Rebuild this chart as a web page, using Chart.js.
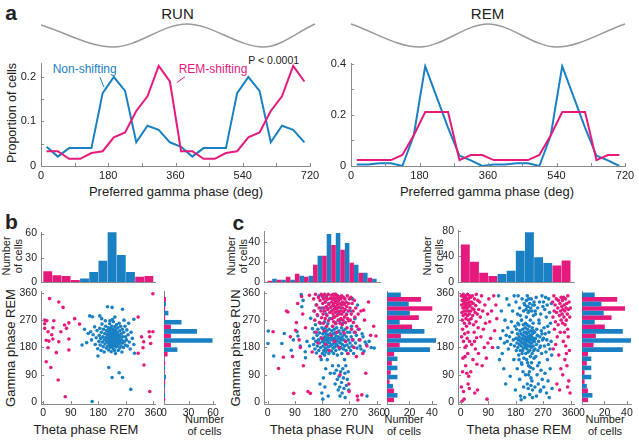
<!DOCTYPE html>
<html>
<head>
<meta charset="utf-8">
<script src="https://cdn.jsdelivr.net/npm/chart.js@4.4.1/dist/chart.umd.min.js"></script>
<style>
html,body{margin:0;padding:0;background:#fff;}
#fig{position:relative;width:639px;height:441px;overflow:hidden;font-family:"Liberation Sans",Arial,sans-serif;color:#222;}
#fig canvas{position:absolute;}
.t{position:absolute;white-space:nowrap;line-height:1;transform:translate(-50%,-50%);}
.rot{transform:translate(-50%,-50%) rotate(-90deg);}
.two{text-align:center;line-height:11.5px;}
.lbl{font-weight:bold;font-size:21px;}
.blue{color:#1a80c4;}
.pink{color:#e6197d;}
</style>
</head>
<body>
<div id="fig">
  <div class="t lbl" style="left:11px;top:11.5px">a</div>
  <div class="t" style="left:177.5px;top:12.5px;font-size:15px">RUN</div>
  <div class="t" style="left:487.5px;top:12.5px;font-size:15px">REM</div>
  <div class="t" style="left:273.7px;top:60px;font-size:10.5px">P &lt; 0.0001</div>
  <div class="t blue" style="left:84.7px;top:68.7px;font-size:12px">Non-shifting</div>
  <div class="t pink" style="left:213px;top:69px;font-size:12px">REM-shifting</div>
  <div class="t rot" style="left:11.7px;top:113px;font-size:12.5px">Proportion of cells</div>
  <div class="t" style="left:176px;top:191px;font-size:13px">Preferred gamma phase (deg)</div>
  <div class="t" style="left:487px;top:191px;font-size:13px">Preferred gamma phase (deg)</div>

  <div class="t lbl" style="left:11.5px;top:221px">b</div>
  <div class="t lbl" style="left:238.3px;top:222.4px">c</div>

  <div class="t rot two" style="left:12px;top:256px;font-size:11px">Number<br>of cells</div>
  <div class="t rot two" style="left:236.7px;top:256px;font-size:11px">Number<br>of cells</div>
  <div class="t rot two" style="left:432.5px;top:256px;font-size:11px">Number<br>of cells</div>

  <div class="t rot" style="left:10px;top:348px;font-size:13px">Gamma phase REM</div>
  <div class="t rot" style="left:235px;top:348px;font-size:13px">Gamma phase RUN</div>

  <div class="t" style="left:86px;top:429px;font-size:13px">Theta phase REM</div>
  <div class="t" style="left:321.7px;top:429px;font-size:13px">Theta phase RUN</div>
  <div class="t" style="left:519px;top:429px;font-size:13px">Theta phase REM</div>

  <div class="t two" style="left:204.5px;top:425px;font-size:11px">Number<br>of cells</div>
  <div class="t two" style="left:404px;top:425px;font-size:11px">Number<br>of cells</div>
  <div class="t two" style="left:605px;top:425px;font-size:11px">Number<br>of cells</div>

  <svg style="position:absolute;left:0;top:0" width="639" height="441">
    <line x1="100" y1="77.3" x2="104" y2="87.3" stroke="#1a80c4" stroke-width="1"/>
    <line x1="185" y1="76.7" x2="176.7" y2="82.7" stroke="#e6197d" stroke-width="1"/>
  </svg>
</div>

<script>
const BLUE = "#1a80c4";
const PINK = "#e6197d";
const AXIS = "#8a8a8a";
const TXT = "#222";
const WAVE = "#9a9a9a";
const FONT = "'Liberation Sans', Arial, sans-serif";

// ---- panel a: preferred gamma phase histograms (30 deg bins, shown twice)
const phaseBins = [15,45,75,105,135,165,195,225,255,285,315,345,375,405,435,465,495,525,555,585,615,645,675,705];
const runNonShifting = [0.043,0.021,0.040,0.040,0.040,0.163,0.199,0.168,0.053,0.090,0.081,0.053,
                        0.043,0.021,0.040,0.040,0.040,0.163,0.199,0.168,0.053,0.090,0.081,0.053];
const runRemShifting = [0.033,0.033,0.016,0.016,0.029,0.033,0.064,0.075,0.123,0.156,0.224,0.189,
                        0.033,0.033,0.016,0.016,0.029,0.033,0.064,0.075,0.123,0.156,0.224,0.189];
const remNonShifting = [0.006,0.006,0.011,0.011,0,0.12,0.39,0.27,0.15,0.04,0.022,0,
                        0.006,0.006,0.011,0.011,0,0.12,0.39,0.27,0.15,0.04,0.022,0];
const remRemShifting = [0.023,0.023,0.023,0.023,0.043,0.12,0.211,0.211,0.211,0.023,0.043,0.043,
                        0.023,0.023,0.023,0.023,0.043,0.12,0.211,0.211,0.211,0.023,0.043,0.043];
const phaseTicks = [0,180,360,540,720];
const phaseMinor = [90,270,450,630];
const runPropTicks = [0,0.1,0.2];
const runPropMinor = [0.05,0.15];
const remPropTicks = [0,0.2,0.4];
const remPropMinor = [0.1,0.3];

// schematic theta waves above panel a (extrema)
const runWavePhase = [0,194,390,595,733];
const runWaveLevel = [0.91,-1,1,-1,1];
const remWavePhase = [0,180,360,540,720];
const remWaveLevel = [1,-1,1,-1,1];

// ---- panels b, c: histograms, 30 deg bins
const binCenters = [15,45,75,105,135,165,195,225,255,285,315,345];
const topGroup = ["rem","rem","rem","rem","non","non","non","non","non","non","rem","rem"];
const bTopCounts = [13,8,7,2,4,12,26,62,33,12,6,7];
const bRightNon = [1,1,2,1,0,16,59,40,21,5,2,0];
const bRightRem = [1,0,1,0,1,4,8,8,8,1,1,2];
const cRunTopRem = [1,2,5,8,5,17,26,37,32,19,9,4];
const cRunTopNon = [3,2,2,6,6,26,48,49,39,17,9,3];
const cRunRightNon = [9,5,9,9,9,38,44,33,11,20,19,12];
const cRunRightRem = [6,6,2,3,4,6,11,12,22,28,40,30];
const cRemTopCounts = [58,31,14,9,12,17,48,77,38,29,25,33];
const cRemRightNon = [9,4,8,8,8,36,44,36,11,19,17,11];
const cRemRightRem = [5,5,2,2,4,5,10,12,20,26,38,31];
const angleTicks = [0,90,180,270,360];
const bCountTicks = [0,30,60];
const cRunCountTicks = [0,20,40];
const cRemCountTicks = [0,40,80];
const sideCountTicks = [0,20,40];

// ---- scatter points [theta, gamma]
const bRemPts = [[21,341],[51,330],[65,312],[5,270],[12,268],[35,268],[70,254],[84,261],[103,275],[119,257],
  [5,243],[16,232],[32,245],[58,232],[76,243],[10,204],[19,201],[32,208],[16,179],[51,199],[84,208],[43,163],
  [84,172],[10,133],[25,114],[49,73],[72,18],[5,258],[28,222],[358,357],[310,280],[346,232],[358,232],[321,215],
  [348,215],[328,199],[351,193],[326,179],[310,161],[329,122],[348,35]];
const bNonPts = [[160,2],[286,42],[214,114],[225,81],[248,97],[259,81],[210,314],[225,312],[259,306],[152,284],
  [161,281],[185,284],[127,188],[296,273],[298,161],[179,152],
  [135,240],[142,196],[147,226],
  [155,232],[158,205],[163,222],[168,248],[170,190],[173,212],[176,236],[178,176],
  [182,200],[183,220],[185,243],[186,188],[188,210],[189,170],[190,230],[192,257],[193,198],[195,215],[196,183],
  [197,240],[199,165],[200,205],[201,226],[202,192],[204,250],[205,213],[206,178],[207,236],[208,200],[209,222],
  [203,268],[191,275],
  [211,185],[211,210],[212,228],[213,196],[213,245],[214,172],[215,204],[215,218],[216,236],[217,190],[217,258],
  [218,212],[218,200],[219,225],[219,180],[220,242],[220,207],[221,195],[221,216],[222,232],[222,166],[223,202],
  [223,188],[224,220],[224,250],[225,210],[225,197],[226,183],[226,228],[227,205],[227,240],[228,192],[228,215],
  [229,175],[229,265],[230,200],[230,222],[231,187],[231,210],[232,235],[232,196],[233,170],[233,218],[234,205],
  [234,248],[235,190],[235,227],[236,212],[236,160],[237,200],[237,238],[238,182],[238,220],[239,207],[239,255],
  [234,280],[226,272],[218,268],[240,195],
  [241,215],[242,230],[242,185],[243,200],[244,245],[245,210],[245,170],[246,222],[247,192],[248,260],[249,205],
  [250,178],[250,235],[251,215],[252,196],[253,250],[254,185],[255,225],[256,205],[257,165],[258,240],[259,195],
  [260,215],[262,180],[263,230],[264,270],[265,200],[267,250],[268,188],[269,215],
  [272,205],[273,238],[275,185],[277,222],[279,260],[281,198],[284,175],[287,230],[291,210],[296,190]];

const cRunRemPts = [[18,232],[36,111],[52,148],[62,300],[67,297],[75,215],[82,150],[86,29],
  [92,237],[95,262],[99,325],[104,205],[108,180],[112,348],[116,290],[118,120],
  [125,245],[133,35],[138,352],[141,29],[147,165],
  [152,340],[154,300],[156,270],[158,355],[160,230],[162,320],[164,288],[166,195],[168,345],[170,310],[171,262],
  [173,335],[174,150],[176,300],[177,355],[178,278],[179,210],
  [181,350],[182,325],[183,290],[184,260],[185,340],[186,310],[187,235],[188,355],[189,300],[190,275],[191,330],
  [192,190],[193,345],[194,315],[195,250],[196,285],[197,338],[199,305],[200,355],[201,268],[202,322],[204,170],
  [205,295],[206,342],[208,312],[209,220],
  [211,352],[211,330],[212,300],[213,275],[214,340],[215,318],[215,250],[216,290],[217,355],[218,325],[218,265],
  [219,305],[220,345],[221,280],[221,200],[222,335],[223,315],[224,296],[225,355],[225,258],[226,328],[227,308],
  [228,342],[229,285],[229,230],[230,320],[231,350],[232,300],[233,270],[234,335],[235,312],[236,180],[237,345],
  [237,290],[238,325],[239,260],[239,90],
  [241,340],[241,300],[242,275],[243,320],[244,350],[245,290],[246,255],[247,330],[248,310],[249,270],[250,345],
  [251,298],[252,228],[253,322],[254,280],[255,340],[256,305],[257,262],[258,200],[259,330],[260,288],[261,315],
  [262,245],[263,350],[264,275],[265,160],[266,300],[267,325],[268,60],[268,268],[269,35],[270,340],
  [272,310],[273,270],[275,345],[276,290],[277,240],[279,325],[280,205],[282,300],[283,262],[285,180],[286,335],
  [288,280],[289,230],[291,310],[293,150],[294,250],[296,20],[298,7],[299,290],
  [302,240],[305,205],[308,300],[311,24],[314,160],[317,303],[320,270],[324,95],[328,185],
  [333,330],[340,220],[350,250],[358,218]];
const cRunNonPts = [[2,234],[1,193],[20,152],[47,193],[55,226],[78,171],[85,205],
  [97,232],[100,218],[108,185],[111,354],[113,314],[117,335],
  [124,166],[125,146],[130,200],[138,185],[142,276],[148,242],
  [151,210],[152,190],[153,300],[155,230],[156,175],[158,255],[159,200],[160,320],[161,162],[163,220],[164,185],
  [165,285],[166,240],[168,205],[169,170],[170,350],[171,228],[172,195],[173,60],[174,260],[175,180],[176,212],
  [177,140],[178,310],[179,30],[179,245],
  [181,200],[181,160],[182,225],[182,10],[183,185],[183,345],[184,240],[184,80],[185,210],[185,170],[186,300],
  [187,195],[187,230],[188,155],[188,265],[189,215],[189,50],[190,178],[190,330],[191,205],[191,245],[192,165],
  [192,110],[193,225],[193,290],[194,190],[195,350],[195,210],[196,172],[196,235],[197,140],[197,310],[198,200],
  [199,220],[199,258],[200,182],[200,20],[201,210],[202,160],[202,325],[203,240],[204,195],[205,275],[206,225],
  [207,185],[207,95],[208,342],[209,205],
  [211,215],[211,168],[212,235],[212,300],[213,190],[214,250],[214,120],[215,205],[216,178],[216,340],[217,225],
  [218,160],[218,280],[219,195],[220,240],[220,95],[221,210],[221,315],[222,182],[223,228],[223,60],[224,200],
  [224,355],[225,170],[225,262],[226,218],[227,105],[227,190],[228,245],[228,330],[229,205],[230,75],[230,155],
  [231,230],[232,185],[232,295],[233,40],[233,215],[234,120],[235,198],[235,345],[236,235],[236,85],[237,175],
  [238,210],[238,50],[239,270],[239,20],[240,195],
  [241,225],[241,100],[242,180],[242,310],[243,205],[244,65],[244,245],[245,160],[246,215],[246,30],[247,190],
  [248,110],[248,260],[249,235],[250,80],[250,175],[251,205],[252,45],[252,325],[253,222],[254,140],[254,185],
  [255,95],[256,240],[256,15],[257,200],[258,120],[259,170],[260,55],[260,215],[261,290],[262,188],[263,75],
  [264,230],[265,160],[266,100],[267,205],[268,40],[269,180],
  [271,230],[272,195],[273,300],[274,170],[276,215],[277,250],[279,185],[280,340],[282,205],[284,160],[286,230],
  [288,275],[290,195],[293,220],[295,178],[297,320],[299,240],
  [302,205],[305,185],[308,175],[312,225],[315,215],[318,168],[322,198],[326,190],[328,20],
  [335,200],[342,180],[352,178]];

const cRemRemPts = [[2,350],[3,320],[4,295],[5,270],[5,335],[6,240],[7,310],[8,355],[8,285],[9,200],[10,325],
  [10,345],[11,300],[12,260],[12,335],[13,315],[14,350],[14,180],[15,290],[15,330],[16,310],[17,275],[17,345],
  [18,320],[19,250],[19,300],[20,338],[20,95],[21,310],[22,285],[22,355],[23,325],[24,230],[24,60],[25,300],
  [25,340],[26,270],[27,315],[27,330],[28,290],[28,45],[29,350],[29,260],[3,215],[6,100],[9,35],[11,10],
  [14,150],[16,120],[18,185],[21,210],[23,160],[26,85],[2,50],[7,145],[13,225],[4,3],[29,200],
  [31,320],[32,345],[33,300],[34,275],[35,330],[36,190],[37,310],[38,350],[39,285],[40,140],[41,325],[42,255],
  [43,305],[44,230],[45,340],[46,30],[47,295],[48,175],[49,318],[50,265],[51,355],[52,212],[53,125],[54,290],
  [55,40],[56,335],[57,245],[58,160],[59,305],[33,100],[45,200],
  [62,330],[64,280],[66,215],[68,350],[70,120],[72,300],[74,240],[77,180],[79,320],[81,260],[84,145],[86,10],
  [88,290],[89,195],
  [92,340],[95,265],[98,210],[101,300],[104,180],[108,350],[111,235],[115,320],[118,275],
  [301,330],[302,280],[303,175],[305,350],[306,300],[307,240],[309,320],[310,265],[311,190],[313,340],[314,295],
  [315,60],[316,215],[318,310],[319,255],[320,335],[321,155],[323,285],[324,40],[325,325],[326,230],[327,300],
  [328,110],[329,345],[329,270],
  [331,315],[332,290],[333,335],[334,260],[335,305],[336,200],[337,345],[338,280],[339,320],[340,230],[341,300],
  [342,255],[343,340],[344,185],[345,310],[346,270],[347,325],[348,120],[349,290],[350,240],[351,350],[352,215],
  [353,305],[354,70],[355,330],[356,170],[357,280],[358,30],[359,310],[334,90],[341,140],[350,50],[346,160]];
const cRemNonPts = [[122,180],[124,350],[127,140],[130,210],[133,300],[136,160],[138,235],[141,110],[143,195],
  [145,270],[147,60],[149,220],
  [151,340],[152,200],[154,245],[156,175],[158,320],[160,215],[162,85],[164,190],[166,265],[168,230],[170,300],
  [172,205],[174,140],[175,350],[176,185],[178,250],[179,40],
  [181,210],[181,330],[182,170],[183,240],[184,195],[185,110],[186,225],[186,290],[187,180],[188,350],[189,205],
  [190,155],[190,255],[191,215],[192,190],[193,310],[193,75],[194,235],[195,170],[196,200],[196,20],[197,225],
  [198,185],[199,270],[199,130],[200,210],[201,160],[201,340],[202,195],[203,240],[204,100],[204,220],[205,178],
  [206,300],[206,50],[207,205],[207,145],[208,230],[208,325],[209,190],[209,15],[200,125],[187,260],[195,285],
  [203,170],[198,8],[191,140],[205,255],
  [210,215],[210,320],[211,180],[211,245],[212,200],[212,90],[213,230],[213,160],[214,305],[214,210],[215,190],
  [215,335],[216,225],[216,140],[217,175],[217,255],[218,205],[218,60],[219,240],[219,185],[220,315],[220,215],
  [221,165],[221,295],[222,200],[222,120],[223,230],[223,340],[224,185],[224,250],[225,210],[225,100],[226,170],
  [226,325],[227,220],[227,195],[228,150],[228,270],[229,205],[229,310],[230,235],[230,80],[231,180],[231,340],
  [232,215],[232,130],[233,195],[233,300],[234,245],[234,160],[235,225],[235,40],[236,205],[236,320],[237,185],
  [237,110],[238,235],[238,285],[239,170],[239,210],[240,145],[240,330],[215,280],[218,350],[222,90],[226,25],
  [230,55],[212,260],[219,130],[224,300],[228,115],[233,70],[237,260],[217,315],[221,45],[229,185],[235,15],
  [241,200],[241,320],[242,230],[243,175],[244,300],[245,210],[246,150],[247,345],[248,190],[249,240],[250,90],
  [251,220],[252,310],[253,170],[254,60],[255,200],[256,270],[257,130],[258,330],[259,215],[260,35],[261,185],
  [262,290],[263,105],[264,235],[265,160],[266,350],[267,75],[268,205],[269,315],[243,50],[248,20],[252,120],
  [257,260],[262,40],[266,225],[245,290],[259,180],
  [271,210],[271,330],[272,50],[273,245],[274,185],[275,305],[276,95],[277,225],[278,345],[279,165],[280,280],
  [281,30],[282,205],[283,320],[284,140],[285,250],[286,70],[287,190],[288,340],[289,230],[290,15],[291,295],
  [292,175],[293,110],[294,260],[296,200],[297,325],[298,155],[299,45]];

// ---------------------------------------------------------------
const fig = document.getElementById("fig");

// small inward tick marks, like the original axes
const inwardTicks = {
  id: "inwardTicks",
  afterDraw(chart, args, opts) {
    const ctx = chart.ctx;
    ctx.save();
    ctx.strokeStyle = AXIS;
    ctx.lineWidth = 1;
    for (const id of ["x", "y"]) {
      const vals = opts[id];
      if (!vals) continue;
      const s = chart.scales[id];
      for (const v of vals) {
        const p = Math.round(s.getPixelForValue(v)) + 0.5;
        ctx.beginPath();
        if (s.isHorizontal()) { ctx.moveTo(p, s.top); ctx.lineTo(p, s.top - 3); }
        else { ctx.moveTo(s.right, p); ctx.lineTo(s.right + 3, p); }
        ctx.stroke();
      }
    }
    ctx.restore();
  }
};

function lin(min, max, tickVals, o = {}) {
  const sc = {
    type: "linear", min, max, offset: false,
    grid: { display: false, drawTicks: false, offset: false },
    border: { display: o.border !== false, color: AXIS, width: 1 },
    ticks: {
      display: tickVals.length > 0,
      color: TXT, font: { family: FONT, size: o.size || 10.5 },
      padding: o.pad ?? 3, maxRotation: 0, autoSkip: false,
      callback: v => String(+Number(v).toFixed(2))
    }
  };
  if (tickVals.length) sc.afterBuildTicks = s => { s.ticks = tickVals.map(v => ({ value: v })); };
  return sc;
}

// box = chart area in page pixels
function makeChart(box, config) {
  const PL = 30, PT = 10, PR = 16, PB = 22;
  const W = box.w + PL + PR, H = box.h + PT + PB;
  const cv = document.createElement("canvas");
  cv.width = W; cv.height = H;
  cv.style.left = (box.x - PL) + "px";
  cv.style.top = (box.y - PT) + "px";
  cv.style.width = W + "px";
  cv.style.height = H + "px";
  fig.appendChild(cv);
  const o = config.options;
  o.responsive = false;
  o.animation = false;
  o.devicePixelRatio = 1;
  o.events = [];
  o.layout = { padding: { top: PT, right: PR, left: 0, bottom: 0 } };
  o.scales.x.afterFit = s => { s.height = PB; };
  o.scales.y.afterFit = s => { s.width = PL; };
  o.plugins = Object.assign({ legend: { display: false }, tooltip: { enabled: false } }, o.plugins || {});
  config.plugins = [inwardTicks];
  return new Chart(cv, config);
}

const xy = (xs, ys) => xs.map((x, i) => ({ x, y: ys[i] }));
const pts = arr => arr.map(p => ({ x: p[0], y: p[1] }));

function lineSet(vals, color) {
  return { data: xy(phaseBins, vals), borderColor: color, borderWidth: 2, pointRadius: 0, tension: 0, fill: false };
}
function waveSet(ph, lv) {
  return { data: xy(ph, lv), borderColor: WAVE, borderWidth: 1.5, pointRadius: 0,
           cubicInterpolationMode: "monotone", fill: false, clip: false };
}
function scatterSet(arr, color) {
  return { data: pts(arr), backgroundColor: color, borderWidth: 0, pointRadius: 1.8, clip: false };
}
function barSet(xs, ys, colors, thick) {
  return { data: xy(xs, ys), backgroundColor: colors, borderWidth: 0, barThickness: thick, grouped: false };
}
function hbarSet(ys, counts, color, thick) {
  return { data: ys.map((y, i) => ({ x: counts[i], y })), backgroundColor: color, borderWidth: 0,
           barThickness: thick, grouped: false };
}
const groupColors = topGroup.map(g => g === "rem" ? PINK : BLUE);
const shift = d => binCenters.map(c => c + d);

// ---- panel a
makeChart({ x: 41, y: 24, w: 274, h: 23 }, {
  type: "line",
  data: { datasets: [waveSet(runWavePhase, runWaveLevel)] },
  options: { scales: { x: lin(0, 733, [], { border: false }), y: lin(-1, 1, [], { border: false }) } }
});
makeChart({ x: 351, y: 24, w: 274, h: 23 }, {
  type: "line",
  data: { datasets: [waveSet(remWavePhase, remWaveLevel)] },
  options: { scales: { x: lin(0, 720, [], { border: false }), y: lin(-1, 1, [], { border: false }) } }
});
makeChart({ x: 41, y: 62, w: 269, h: 104 }, {
  type: "line",
  data: { datasets: [lineSet(runRemShifting, PINK), lineSet(runNonShifting, BLUE)] },
  options: {
    scales: { x: lin(0, 720, phaseTicks, { size: 11, pad: 3 }), y: lin(0, 0.229, runPropTicks, { size: 11, pad: 5 }) },
    plugins: { inwardTicks: { x: phaseTicks.concat(phaseMinor), y: runPropTicks.concat(runPropMinor) } }
  }
});
makeChart({ x: 351, y: 62, w: 274, h: 104 }, {
  type: "line",
  data: { datasets: [lineSet(remRemShifting, PINK), lineSet(remNonShifting, BLUE)] },
  options: {
    scales: { x: lin(0, 720, phaseTicks, { size: 11, pad: 3 }), y: lin(0, 0.4, remPropTicks, { size: 11, pad: 5 }) },
    plugins: { inwardTicks: { x: phaseTicks.concat(phaseMinor), y: remPropTicks.concat(remPropMinor) } }
  }
});

// ---- panel b
makeChart({ x: 41, y: 232, w: 114, h: 50 }, {
  type: "bar",
  data: { datasets: [barSet(binCenters, bTopCounts, groupColors, 8.2)] },
  options: {
    scales: { x: lin(-7, 365, []), y: lin(0, 61.5, bCountTicks, { pad: 4 }) },
    plugins: { inwardTicks: { y: bCountTicks } }
  }
});
makeChart({ x: 41, y: 291, w: 114, h: 113 }, {
  type: "scatter",
  data: { datasets: [scatterSet(bRemPts, PINK), scatterSet(bNonPts, BLUE)] },
  options: {
    scales: { x: lin(-7, 365, angleTicks), y: lin(-6, 365, angleTicks, { pad: 4 }) },
    plugins: { inwardTicks: { x: angleTicks, y: angleTicks } }
  }
});
makeChart({ x: 164, y: 291, w: 51, h: 113 }, {
  type: "bar",
  data: { datasets: [hbarSet(shift(7.5), bRightNon, BLUE, 3.9), hbarSet(shift(-7.5), bRightRem, PINK, 3.9)] },
  options: {
    indexAxis: "y",
    scales: { x: lin(0, 62.4, bCountTicks), y: lin(-6, 365, []) },
    plugins: { inwardTicks: { x: bCountTicks } }
  }
});

// ---- panel c, RUN
makeChart({ x: 264, y: 231, w: 116, h: 51 }, {
  type: "bar",
  data: { datasets: [barSet(shift(-7.5), cRunTopRem, PINK, 3.9), barSet(shift(7.5), cRunTopNon, BLUE, 3.9)] },
  options: {
    scales: { x: lin(-12, 371, []), y: lin(0, 51, cRunCountTicks, { pad: 4 }) },
    plugins: { inwardTicks: { y: cRunCountTicks } }
  }
});
makeChart({ x: 264, y: 291, w: 116, h: 113 }, {
  type: "scatter",
  data: { datasets: [scatterSet(cRunRemPts, PINK), scatterSet(cRunNonPts, BLUE)] },
  options: {
    scales: { x: lin(-12, 371, angleTicks), y: lin(-6, 365, angleTicks, { pad: 4 }) },
    plugins: { inwardTicks: { x: angleTicks, y: angleTicks } }
  }
});
makeChart({ x: 387, y: 291, w: 49, h: 113 }, {
  type: "bar",
  data: { datasets: [hbarSet(shift(7.5), cRunRightNon, BLUE, 3.9), hbarSet(shift(-7.5), cRunRightRem, PINK, 3.9)] },
  options: {
    indexAxis: "y",
    scales: { x: lin(0, 43.6, sideCountTicks), y: lin(-6, 365, []) },
    plugins: { inwardTicks: { x: sideCountTicks } }
  }
});

// ---- panel c, REM
makeChart({ x: 458, y: 230, w: 116, h: 52 }, {
  type: "bar",
  data: { datasets: [barSet(binCenters, cRemTopCounts, groupColors, 8.2)] },
  options: {
    scales: { x: lin(-9, 371, []), y: lin(0, 80.5, cRemCountTicks, { pad: 4 }) },
    plugins: { inwardTicks: { y: cRemCountTicks } }
  }
});
makeChart({ x: 458, y: 291, w: 116, h: 113 }, {
  type: "scatter",
  data: { datasets: [scatterSet(cRemRemPts, PINK), scatterSet(cRemNonPts, BLUE)] },
  options: {
    scales: { x: lin(-9, 371, angleTicks), y: lin(-6, 365, angleTicks, { pad: 4 }) },
    plugins: { inwardTicks: { x: angleTicks, y: angleTicks } }
  }
});
makeChart({ x: 582, y: 291, w: 49, h: 113 }, {
  type: "bar",
  data: { datasets: [hbarSet(shift(7.5), cRemRightNon, BLUE, 3.9), hbarSet(shift(-7.5), cRemRightRem, PINK, 3.9)] },
  options: {
    indexAxis: "y",
    scales: { x: lin(0, 43.6, sideCountTicks), y: lin(-6, 365, []) },
    plugins: { inwardTicks: { x: sideCountTicks } }
  }
});
</script>
</body>
</html>
